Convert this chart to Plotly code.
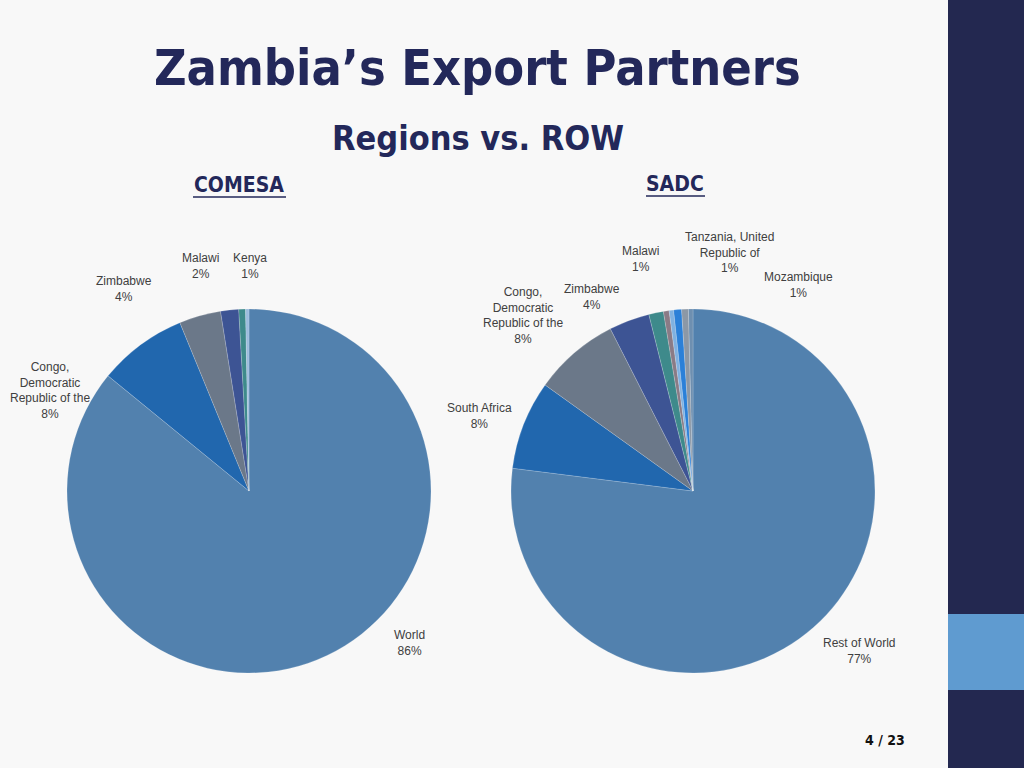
import plotly.graph_objects as go

# ---------------- data ----------------
comesa_labels = ["World", "Congo, Democratic Republic of the", "Zimbabwe", "Malawi", "Kenya", "Other"]
comesa_values = [85.9, 7.9, 3.7, 1.6, 0.6, 0.3]
comesa_shown = [True, True, True, True, True, False]

sadc_labels = ["Rest of World", "South Africa", "Congo, Democratic Republic of the", "Zimbabwe",
               "Malawi", "Other A", "Other B", "Tanzania, United Republic of", "Mozambique", "Other C"]
sadc_values = [77.0, 7.9, 7.6, 3.6, 1.3, 0.5, 0.4, 0.7, 0.6, 0.4]
sadc_shown = [True, True, True, True, True, False, False, True, True, False]

# ---------------- styles ----------------
comesa_colors = ["#5281AE", "#2167AE", "#6B7889", "#3D5494", "#3E8A8B", "#9BBCDD"]
sadc_colors = ["#5281AE", "#2167AE", "#6B7889", "#3D5494", "#3E8A8B",
               "#8A7B86", "#80B1E0", "#2B80D8", "#8C98A6", "#6E8FB0"]

# label display text (line breaks) and label positions (pixels in the 1024x768 page)
comesa_label_text = ["World", "Congo,<br>Democratic<br>Republic of the", "Zimbabwe", "Malawi", "Kenya", ""]
comesa_label_pos = [(409, 643), (50, 390), (124, 289), (200, 266), (250, 266), None]
sadc_label_text = ["Rest of World", "South Africa", "Congo,<br>Democratic<br>Republic of the", "Zimbabwe",
                   "Malawi", "", "", "Tanzania, United<br>Republic of", "Mozambique", ""]
sadc_label_pos = [(859, 651), (479, 416), (523, 316), (592, 297), (640, 259), None, None,
                  (729, 253), (798, 285), None]

W, H = 1024, 768
NAVY = "#23285A"
BG = "#F8F8F8"


def px(x):
    return x / W


def py(y):
    return 1 - y / H


fig = go.Figure()

fig.add_trace(go.Pie(
    labels=comesa_labels, values=comesa_values, sort=False, direction="clockwise", rotation=0,
    marker=dict(colors=comesa_colors, line=dict(color="rgba(255,255,255,0.35)", width=0.5)),
    textinfo="none", hoverinfo="label+percent", showlegend=False,
    domain=dict(x=[px(67), px(431)], y=[py(673), py(309)]),
))
fig.add_trace(go.Pie(
    labels=sadc_labels, values=sadc_values, sort=False, direction="clockwise", rotation=0,
    marker=dict(colors=sadc_colors, line=dict(color="rgba(255,255,255,0.35)", width=0.5)),
    textinfo="none", hoverinfo="label+percent", showlegend=False,
    domain=dict(x=[px(511), px(875)], y=[py(673), py(309)]),
))

annotations = []
label_font = dict(family="Liberation Sans, Arial, sans-serif", size=12, color="#404040")


def add_labels(values, texts, positions, shown):
    total = sum(values)
    for v, t, p, s in zip(values, texts, positions, shown):
        if not s or p is None:
            continue
        pct = int(round(v / total * 100))
        annotations.append(dict(
            x=px(p[0]), y=py(p[1]), xref="paper", yref="paper",
            text=f"{t}<br>{pct}%", showarrow=False, xanchor="center", yanchor="middle",
            align="center", font=label_font,
        ))


add_labels(comesa_values, comesa_label_text, comesa_label_pos, comesa_shown)
add_labels(sadc_values, sadc_label_text, sadc_label_pos, sadc_shown)

title_family = "Liberation Sans Narrow, Arial Narrow, DejaVu Sans Condensed, sans-serif"
annotations += [
    dict(x=px(477), y=py(68), xref="paper", yref="paper", text="<b>Zambia’s Export Partners</b>",
         showarrow=False, xanchor="center", yanchor="middle",
         font=dict(family=title_family, size=50, color=NAVY)),
    dict(x=px(478), y=py(138), xref="paper", yref="paper", text="<b>Regions vs. ROW</b>",
         showarrow=False, xanchor="center", yanchor="middle",
         font=dict(family=title_family, size=34, color=NAVY)),
    dict(x=px(239), y=py(185), xref="paper", yref="paper", text="<b>COMESA</b>",
         showarrow=False, xanchor="center", yanchor="middle",
         font=dict(family=title_family, size=21, color=NAVY)),
    dict(x=px(675), y=py(184), xref="paper", yref="paper", text="<b>SADC</b>",
         showarrow=False, xanchor="center", yanchor="middle",
         font=dict(family=title_family, size=21, color=NAVY)),
    dict(x=px(885), y=py(740), xref="paper", yref="paper", text="<b>4 / 23</b>",
         showarrow=False, xanchor="center", yanchor="middle",
         font=dict(family=title_family, size=14, color="#111111")),
]

shapes = [
    # right sidebar
    dict(type="rect", xref="paper", yref="paper", x0=px(948), x1=1, y0=0, y1=1,
         fillcolor="#232850", line=dict(width=0), layer="below"),
    dict(type="rect", xref="paper", yref="paper", x0=px(948), x1=1, y0=py(690), y1=py(614),
         fillcolor="#5F9BD0", line=dict(width=0), layer="below"),
    # underlines
    dict(type="line", xref="paper", yref="paper", x0=px(193), x1=px(286), y0=py(197), y1=py(197),
         line=dict(color=NAVY, width=1.5)),
    dict(type="line", xref="paper", yref="paper", x0=px(646), x1=px(705), y0=py(196), y1=py(196),
         line=dict(color=NAVY, width=1.5)),
]

fig.update_layout(
    width=W, height=H,
    margin=dict(l=0, r=0, t=0, b=0),
    paper_bgcolor=BG, plot_bgcolor=BG,
    annotations=annotations, shapes=shapes,
)

fig.write_html(
    "out.html",
    config={"displayModeBar": False},
    post_script=f"document.body.style.margin='0';document.body.style.overflow='hidden';"
                f"document.body.style.background='{BG}';",
)
